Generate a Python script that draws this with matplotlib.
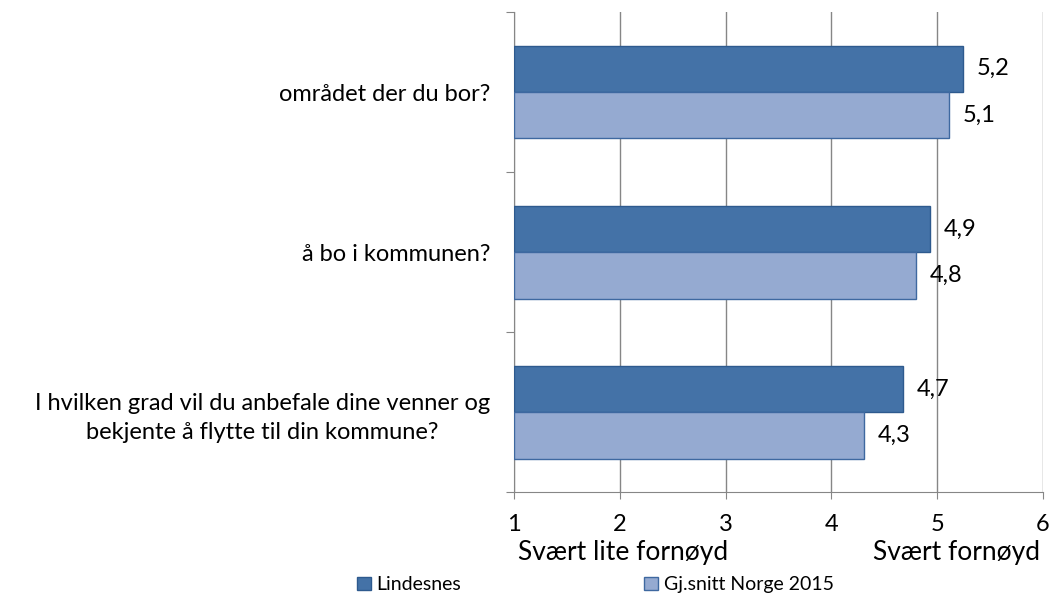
import numpy as np
import matplotlib.pyplot as plt

plt.rcParams['font.family'] = ['Lato', 'DejaVu Sans']

categories = ['I hvilken grad vil du anbefale dine venner og\nbekjente å flytte til din kommune?',
              'å bo i kommunen?',
              'området der du bor?']
lindesnes = [4.68, 4.93, 5.24]
norge = [4.31, 4.80, 5.11]
series_names = ['Lindesnes', 'Gj.snitt Norge 2015']

dark = '#4472A7'
light = '#95AAD1'

fig = plt.figure(figsize=(10.53, 6.01), dpi=100)
ax = fig.add_axes([0.488, 0.181, 0.5025, 0.799])

y = np.arange(len(categories))
h = 0.29
b1 = ax.barh(y + h / 2, np.array(lindesnes) - 1, left=1, height=h, color=dark,
             edgecolor='#2E5A8E', linewidth=1, label=series_names[0], zorder=3)
b2 = ax.barh(y - h / 2, np.array(norge) - 1, left=1, height=h, color=light,
             edgecolor='#3E68A0', linewidth=1, label=series_names[1], zorder=3)

for bars, vals in [(b1, lindesnes), (b2, norge)]:
    for bar, v in zip(bars, vals):
        ax.annotate(f'{v:.1f}'.replace('.', ','),
                    (v, bar.get_y() + bar.get_height() / 2),
                    xytext=(10, 0), textcoords='offset points',
                    va='center', ha='left', fontsize=17, zorder=5)

ax.set_xlim(1, 6)
ax.set_ylim(-0.5, 2.5)
ax.set_xticks([1, 2, 3, 4, 5, 6])
ax.set_xticklabels(['1', '2', '3', '4', '5', '6'], fontsize=17)
ax.tick_params(axis='x', length=5, color='#868686', pad=11)
ax.grid(axis='x', color='#868686', linewidth=1, zorder=0)

ax.set_yticks([-0.5, 0.5, 1.5, 2.5])
ax.set_yticklabels([])
ax.set_yticks(y, minor=True)
ax.set_yticklabels(categories, minor=True, fontsize=17,
                   multialignment='center', linespacing=1.45)
ax.tick_params(axis='y', which='major', length=6, color='#868686')
ax.tick_params(axis='y', which='minor', length=0, pad=17)

for s in ['top', 'right']:
    ax.spines[s].set_visible(False)
for s in ['left', 'bottom']:
    ax.spines[s].set_color('#868686')

fig.text(0.5915, 0.0815, 'Svært lite fornøyd', ha='center', va='center', fontsize=19)
fig.text(0.9085, 0.0815, 'Svært fornøyd', ha='center', va='center', fontsize=19)

fig.legend(handles=[b1, b2], loc='center left', bbox_to_anchor=(0.33, 0.027),
           ncol=2, frameon=False, fontsize=14, handlelength=0.7, handleheight=0.7,
           handletextpad=0.3, columnspacing=9.4, borderpad=0)

fig.savefig('out.png', dpi=100)
